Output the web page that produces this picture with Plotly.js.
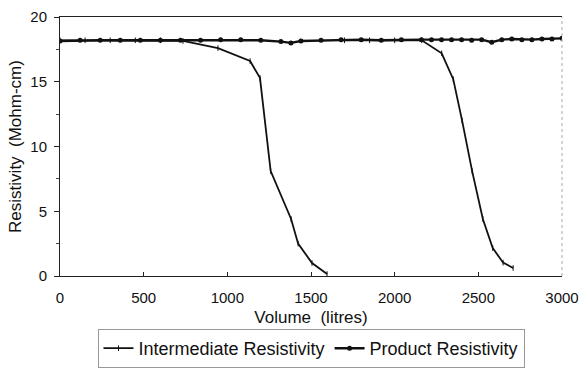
<!DOCTYPE html>
<html>
<head>
<meta charset="utf-8">
<script src="https://cdn.plot.ly/plotly-3.0.1.min.js"></script>
<style>html,body{margin:0;padding:0;background:#fff;}#chart{width:580px;height:368px;}</style>
</head>
<body>
<div id="chart"></div>
<script>
// Intermediate resistivity (two exhaustion runs, gap between them)
var interVolume = [0, 150, 300, 450, 600, 735, 944, 1136, 1195, 1259, 1381, 1423, 1506, 1596, null, 1700, 1850, 2000, 2162, 2281, 2350, 2403, 2463, 2527, 2586, 2648, 2708];
var interRes    = [18.2, 18.2, 18.2, 18.2, 18.2, 18.15, 17.6, 16.6, 15.3, 8.1, 4.4, 2.5, 1.0, 0.15, null, 18.2, 18.2, 18.2, 18.2, 17.2, 15.2, 12.0, 8.1, 4.4, 2.16, 1.03, 0.62];

// Product resistivity
var prodVolume = [0, 120, 240, 360, 480, 600, 720, 840, 960, 1080, 1200, 1320, 1380, 1440, 1560, 1680, 1800, 1920, 2040, 2160, 2220, 2280, 2340, 2400, 2460, 2520, 2580, 2640, 2700, 2760, 2820, 2880, 2940, 3000];
var prodRes    = [18.15, 18.2, 18.2, 18.2, 18.2, 18.2, 18.2, 18.2, 18.25, 18.25, 18.2, 18.1, 18.0, 18.15, 18.2, 18.25, 18.25, 18.2, 18.25, 18.25, 18.25, 18.25, 18.25, 18.25, 18.2, 18.25, 18.05, 18.25, 18.3, 18.25, 18.25, 18.3, 18.3, 18.35];

var xTicks = [0, 500, 1000, 1500, 2000, 2500, 3000];
var yTicks = [0, 5, 10, 15, 20];

var fam = 'Liberation Sans, Arial, sans-serif';

var traces = [
  {x: interVolume, y: interRes, name: 'Intermediate Resistivity', type: 'scatter', mode: 'lines+markers',
   connectgaps: false,
   line: {color: '#111', width: 1.8},
   marker: {symbol: 'line-ns', size: 4, line: {color: '#111', width: 1}}},
  {x: prodVolume, y: prodRes, name: 'Product Resistivity', type: 'scatter', mode: 'lines+markers',
   line: {color: '#111', width: 2.4},
   marker: {symbol: 'circle', size: 5, color: '#111'}}
];

var layout = {
  width: 580, height: 368,
  margin: {l: 60, r: 18, t: 17, b: 92},
  paper_bgcolor: '#fff', plot_bgcolor: '#fff',
  font: {family: fam, size: 15, color: '#111'},
  showlegend: true,
  legend: {orientation: 'h', x: 0.5, xanchor: 'center', xref: 'paper', y: -0.012, yref: 'container', yanchor: 'bottom',
           bordercolor: '#999', borderwidth: 1, font: {family: fam, size: 18, color: '#111'},
           itemwidth: 30, tracegroupgap: 0},
  xaxis: {range: [0, 3000], tickvals: xTicks, ticktext: xTicks.map(String),
          showgrid: false, zeroline: false, showline: true, mirror: true, linecolor: '#222', linewidth: 1,
          ticks: 'inside', ticklen: 4, tickcolor: '#222', ticklabelstandoff: 8,
          tickfont: {family: fam, size: 15, color: '#111'},
          title: {text: 'Volume  (litres)', font: {family: fam, size: 17, color: '#111'}, standoff: 6}},
  yaxis: {range: [0, 20], tickvals: yTicks, ticktext: yTicks.map(String),
          showgrid: false, zeroline: false, showline: true, linecolor: '#222', linewidth: 1,
          ticks: 'outside', ticklen: 5, tickcolor: '#222', ticklabelstandoff: 4,
          minor: {dtick: 2.5, ticks: 'outside', ticklen: 3, tickcolor: '#444'},
          tickfont: {family: fam, size: 15, color: '#111'},
          title: {text: 'Resistivity  (Mohm-cm)', font: {family: fam, size: 17, color: '#111'}, standoff: 4}},
  shapes: [
    {type: 'line', xref: 'paper', yref: 'paper', x0: 1, x1: 1, y0: 0, y1: 1,
     line: {color: '#aaa', width: 1, dash: 'dot'}}
  ]
};

Plotly.newPlot('chart', traces, layout, {staticPlot: true, displayModeBar: false});
</script>
</body>
</html>
